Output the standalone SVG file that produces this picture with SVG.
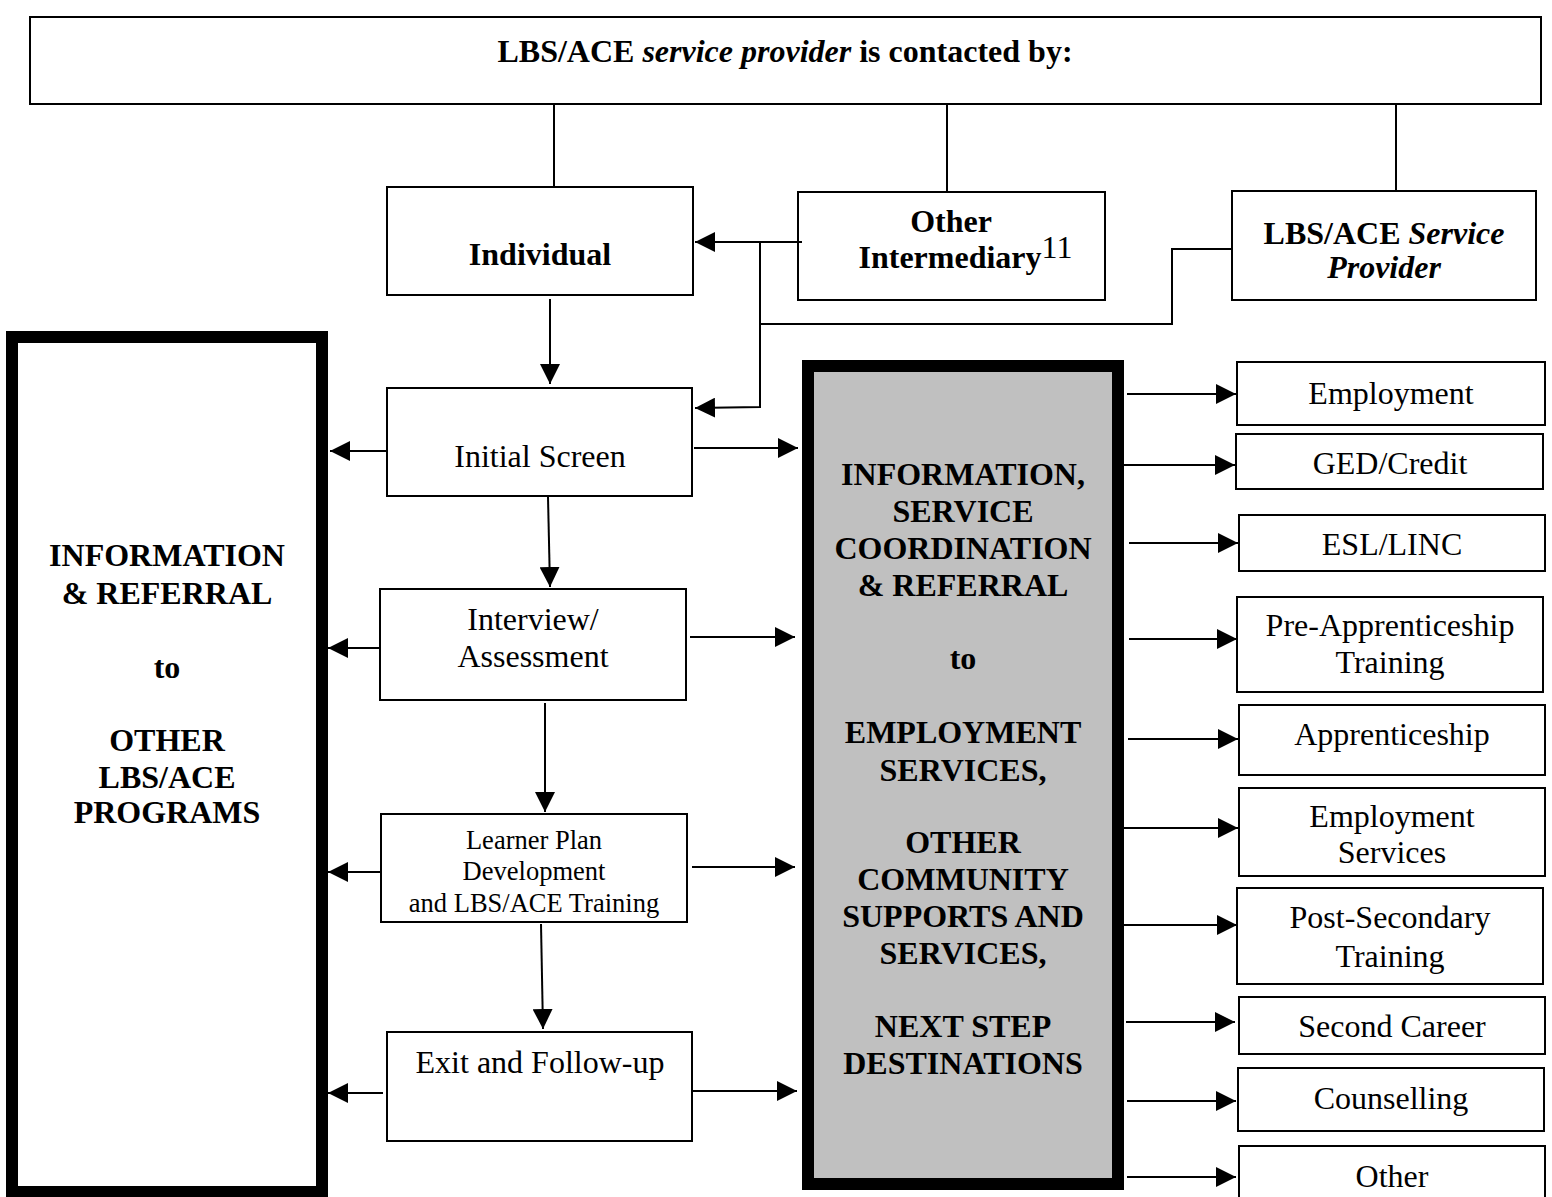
<svg xmlns="http://www.w3.org/2000/svg" width="1552" height="1197" viewBox="0 0 1552 1197">
<style>
.box{fill:#fff;stroke:#000;stroke-width:2}
.thick{stroke:#000;stroke-width:12}
.t{font-family:"Liberation Serif","Times New Roman",serif;font-size:32px;fill:#000;text-anchor:middle}
.b{font-weight:bold}
.i{font-style:italic}
.s{font-size:26.5px}
.c line,.c polyline{fill:none;stroke:#000;stroke-width:2}
.a{marker-end:url(#ah)}
</style>
<defs>
<marker id="ah" markerUnits="userSpaceOnUse" markerWidth="20" markerHeight="20" refX="20" refY="10" orient="auto">
<path d="M0,0 L20,10 L0,20 z" fill="#000"/>
</marker>
</defs>
<rect width="1552" height="1197" fill="#fff"/>

<g id="top">
<rect class="box" x="30" y="17" width="1511" height="87"/>
<text class="t b" x="785" y="62">LBS/ACE <tspan class="i">service provider</tspan> is contacted by:</text>
</g>
<g id="individual">
<rect class="box" x="387" y="187" width="306" height="108"/>
<text class="t b" x="540" y="265">Individual</text>
</g>
<g id="other-intermediary">
<rect class="box" x="798" y="192" width="307" height="108"/>
<text class="t b" x="951" y="232">Other</text>
<text class="t b" x="950" y="268">Intermediary</text>
<text class="t" x="1057" y="258" font-size="20">11</text>
</g>
<g id="lbs-provider">
<rect class="box" x="1232" y="191" width="304" height="109"/>
<text class="t b" x="1384" y="244">LBS/ACE <tspan class="i">Service</tspan></text>
<text class="t b i" x="1384" y="278">Provider</text>
</g>
<g id="left-box">
<rect class="thick" fill="#fff" x="12" y="337" width="310" height="855"/>
<text class="t b" x="167" y="566">INFORMATION</text>
<text class="t b" x="167" y="604">&amp; REFERRAL</text>
<text class="t b" x="167" y="678">to</text>
<text class="t b" x="167" y="751">OTHER</text>
<text class="t b" x="167" y="788">LBS/ACE</text>
<text class="t b" x="167" y="823">PROGRAMS</text>
</g>
<g id="middle-box">
<rect class="thick" fill="#c0c0c0" x="808" y="366" width="310" height="818"/>
<text class="t b" x="963" y="485">INFORMATION,</text>
<text class="t b" x="963" y="522">SERVICE</text>
<text class="t b" x="963" y="559">COORDINATION</text>
<text class="t b" x="963" y="596">&amp; REFERRAL</text>
<text class="t b" x="963" y="669">to</text>
<text class="t b" x="963" y="743">EMPLOYMENT</text>
<text class="t b" x="963" y="781">SERVICES,</text>
<text class="t b" x="963" y="853">OTHER</text>
<text class="t b" x="963" y="890">COMMUNITY</text>
<text class="t b" x="963" y="927">SUPPORTS AND</text>
<text class="t b" x="963" y="964">SERVICES,</text>
<text class="t b" x="963" y="1037">NEXT STEP</text>
<text class="t b" x="963" y="1074">DESTINATIONS</text>
</g>
<g id="initial-screen">
<rect class="box" x="387" y="388" width="305" height="108"/>
<text class="t" x="540" y="467">Initial Screen</text>
</g>
<g id="interview">
<rect class="box" x="380" y="589" width="306" height="111"/>
<text class="t" x="533" y="630">Interview/</text>
<text class="t" x="533" y="667">Assessment</text>
</g>
<g id="learner-plan">
<rect class="box" x="381" y="814" width="306" height="108"/>
<text class="t s" x="534" y="849">Learner Plan</text>
<text class="t s" x="534" y="880">Development</text>
<text class="t s" x="534" y="912">and LBS/ACE Training</text>
</g>
<g id="exit">
<rect class="box" x="387" y="1032" width="305" height="109"/>
<text class="t" x="540" y="1073">Exit and Follow-up</text>
</g>
<g id="employment">
<rect class="box" x="1237" y="362" width="308" height="63"/>
<text class="t" x="1391" y="404">Employment</text>
</g>
<g id="ged">
<rect class="box" x="1236" y="434" width="307" height="55"/>
<text class="t" x="1390" y="474">GED/Credit</text>
</g>
<g id="esl">
<rect class="box" x="1239" y="515" width="306" height="56"/>
<text class="t" x="1392" y="555">ESL/LINC</text>
</g>
<g id="pre-apprenticeship">
<rect class="box" x="1237" y="597" width="306" height="95"/>
<text class="t" x="1390" y="636">Pre-Apprenticeship</text>
<text class="t" x="1390" y="673">Training</text>
</g>
<g id="apprenticeship">
<rect class="box" x="1239" y="705" width="306" height="70"/>
<text class="t" x="1392" y="745">Apprenticeship</text>
</g>
<g id="employment-services">
<rect class="box" x="1239" y="788" width="306" height="88"/>
<text class="t" x="1392" y="827">Employment</text>
<text class="t" x="1392" y="863">Services</text>
</g>
<g id="post-secondary">
<rect class="box" x="1237" y="888" width="306" height="96"/>
<text class="t" x="1390" y="928">Post-Secondary</text>
<text class="t" x="1390" y="967">Training</text>
</g>
<g id="second-career">
<rect class="box" x="1239" y="997" width="306" height="57"/>
<text class="t" x="1392" y="1037">Second Career</text>
</g>
<g id="counselling">
<rect class="box" x="1238" y="1068" width="306" height="63"/>
<text class="t" x="1391" y="1109">Counselling</text>
</g>
<g id="other-dest">
<rect class="box" x="1239" y="1146" width="306" height="60"/>
<text class="t" x="1392" y="1187">Other</text>
</g>

<g id="connectors" class="c">
<line x1="554" y1="104" x2="554" y2="187"/>
<line x1="947" y1="104" x2="947" y2="192"/>
<line x1="1396" y1="104" x2="1396" y2="191"/>
<line class="a" x1="802" y1="242" x2="695" y2="242"/>
<polyline class="a" points="760,243 760,407 695,408"/>
<polyline points="1232,249 1172,249 1172,324 760,324"/>
<line class="a" x1="550" y1="299" x2="550" y2="384"/>
<line class="a" x1="387" y1="451" x2="330" y2="451"/>
<line class="a" x1="694" y1="448" x2="798" y2="448"/>
<line class="a" x1="548" y1="497" x2="550" y2="587"/>
<line class="a" x1="380" y1="648" x2="328" y2="648"/>
<line class="a" x1="690" y1="637" x2="795" y2="637"/>
<line class="a" x1="545" y1="703" x2="545" y2="812"/>
<line class="a" x1="381" y1="872" x2="328" y2="872"/>
<line class="a" x1="692" y1="867" x2="795" y2="867"/>
<line class="a" x1="541" y1="924" x2="543" y2="1029"/>
<line class="a" x1="383" y1="1093" x2="328" y2="1093"/>
<line class="a" x1="692" y1="1091" x2="797" y2="1091"/>
<line class="a" x1="1127" y1="394" x2="1236" y2="394"/>
<line class="a" x1="1124" y1="465" x2="1235" y2="465"/>
<line class="a" x1="1129" y1="543" x2="1238" y2="543"/>
<line class="a" x1="1129" y1="639" x2="1237" y2="639"/>
<line class="a" x1="1128" y1="739" x2="1238" y2="739"/>
<line class="a" x1="1124" y1="828" x2="1238" y2="828"/>
<line class="a" x1="1124" y1="925" x2="1237" y2="925"/>
<line class="a" x1="1126" y1="1022" x2="1235" y2="1022"/>
<line class="a" x1="1127" y1="1101" x2="1236" y2="1101"/>
<line class="a" x1="1127" y1="1177" x2="1236" y2="1177"/>
</g>
</svg>
